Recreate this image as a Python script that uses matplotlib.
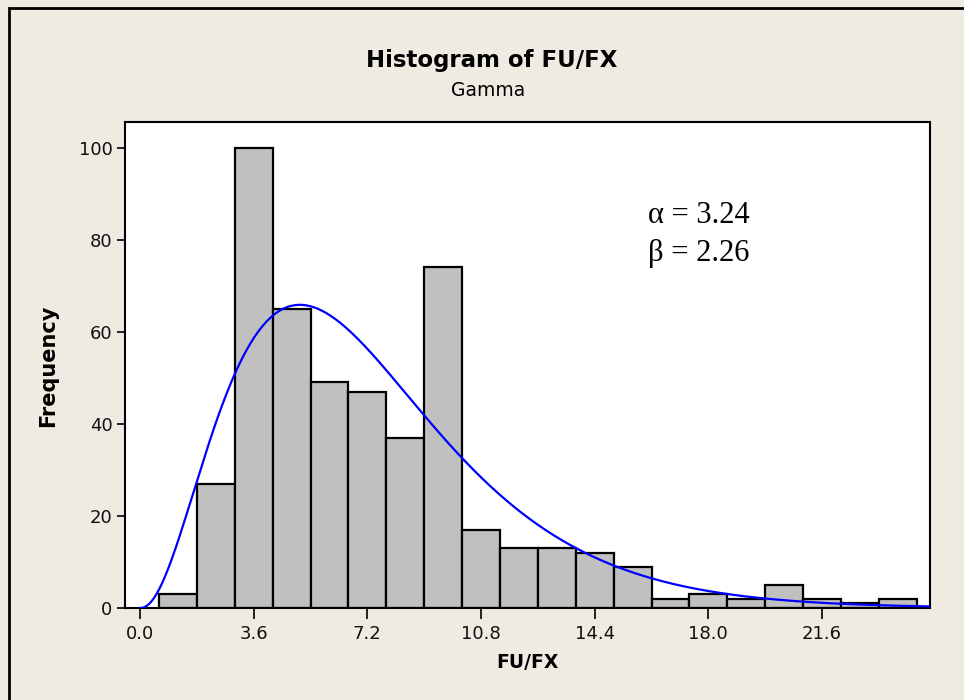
import math
import numpy as np
import matplotlib
matplotlib.use("Agg")
import matplotlib.pyplot as plt
from matplotlib.patches import Rectangle

# histogram data
bin_edges = [0.6, 1.8, 3.0, 4.2, 5.4, 6.6, 7.8, 9.0, 10.2, 11.4, 12.6,
             13.8, 15.0, 16.2, 17.4, 18.6, 19.8, 21.0, 22.2, 23.4, 24.6]
counts = [3, 27, 100, 65, 49, 47, 37, 74, 17, 13, 13, 12, 9, 2, 3, 2, 5, 2, 1, 2]
xticks = [0.0, 3.6, 7.2, 10.8, 14.4, 18.0, 21.6]
xtick_labels = ["0.0", "3.6", "7.2", "10.8", "14.4", "18.0", "21.6"]
yticks = [0, 20, 40, 60, 80, 100]

# fitted gamma parameters shown on the chart
alpha = 3.24
beta = 2.26

bg = "#EFEBE2"
fig = plt.figure(figsize=(9.64, 7.0), dpi=100, facecolor=bg)
ax = fig.add_axes([125/964, 1-608/700, (930-125)/964, (608-122)/700])
ax.set_facecolor("white")

widths = np.diff(bin_edges)
ax.bar(bin_edges[:-1], counts, width=widths, align="edge",
       color="#C0C0C0", edgecolor="black", linewidth=1.6, zorder=2)

# fitted curve, scaled to counts
xs = np.linspace(0.0, 25.0, 400)
binw = widths[0]
n = sum(counts)
pdf = xs**(alpha-1) * np.exp(-xs/beta) / (math.gamma(alpha) * beta**alpha)
ax.plot(xs, pdf * n * binw, color="#0000FF", linewidth=1.6, zorder=3)

ax.set_xlim(-0.475, 25.02)
ax.set_ylim(0, 105.6)
ax.set_xticks(xticks)
ax.set_xticklabels(xtick_labels)
ax.set_yticks(yticks)
ax.tick_params(axis="both", direction="out", labelsize=13, colors="black",
               width=1.2, labelcolor="#111111")
ax.tick_params(axis="x", length=8, pad=4)
ax.tick_params(axis="y", length=6, pad=3)
for s in ax.spines.values():
    s.set_linewidth(1.5)

fig.text(648/964, 1-216/700, "\u03b1 = 3.24", family="Liberation Serif",
         fontsize=22, va="center", ha="left")
fig.text(648/964, 1-253/700, "\u03b2 = 2.26", family="Liberation Serif",
         fontsize=22, va="center", ha="left")

fig.text(492/964, 1-60/700, "Histogram of FU/FX", ha="center", va="center",
         fontsize=16.5, fontweight="bold")
fig.text(488/964, 1-91/700, "Gamma", ha="center", va="center", fontsize=13.5)
fig.text(48/964, 1-366/700, "Frequency", ha="center", va="center",
         rotation=90, fontsize=15, fontweight="bold")
fig.text(527/964, 1-662/700, "FU/FX", ha="center", va="center",
         fontsize=13.5, fontweight="bold")

# outer frame, only top and left edges visible in the picture
fig.patches.append(Rectangle((9/964, -0.1), 1.2, 1.1 - 8/700,
                             transform=fig.transFigure, fill=False,
                             edgecolor="black", linewidth=2, zorder=0))

fig.savefig("out.png", dpi=100, facecolor=bg)
